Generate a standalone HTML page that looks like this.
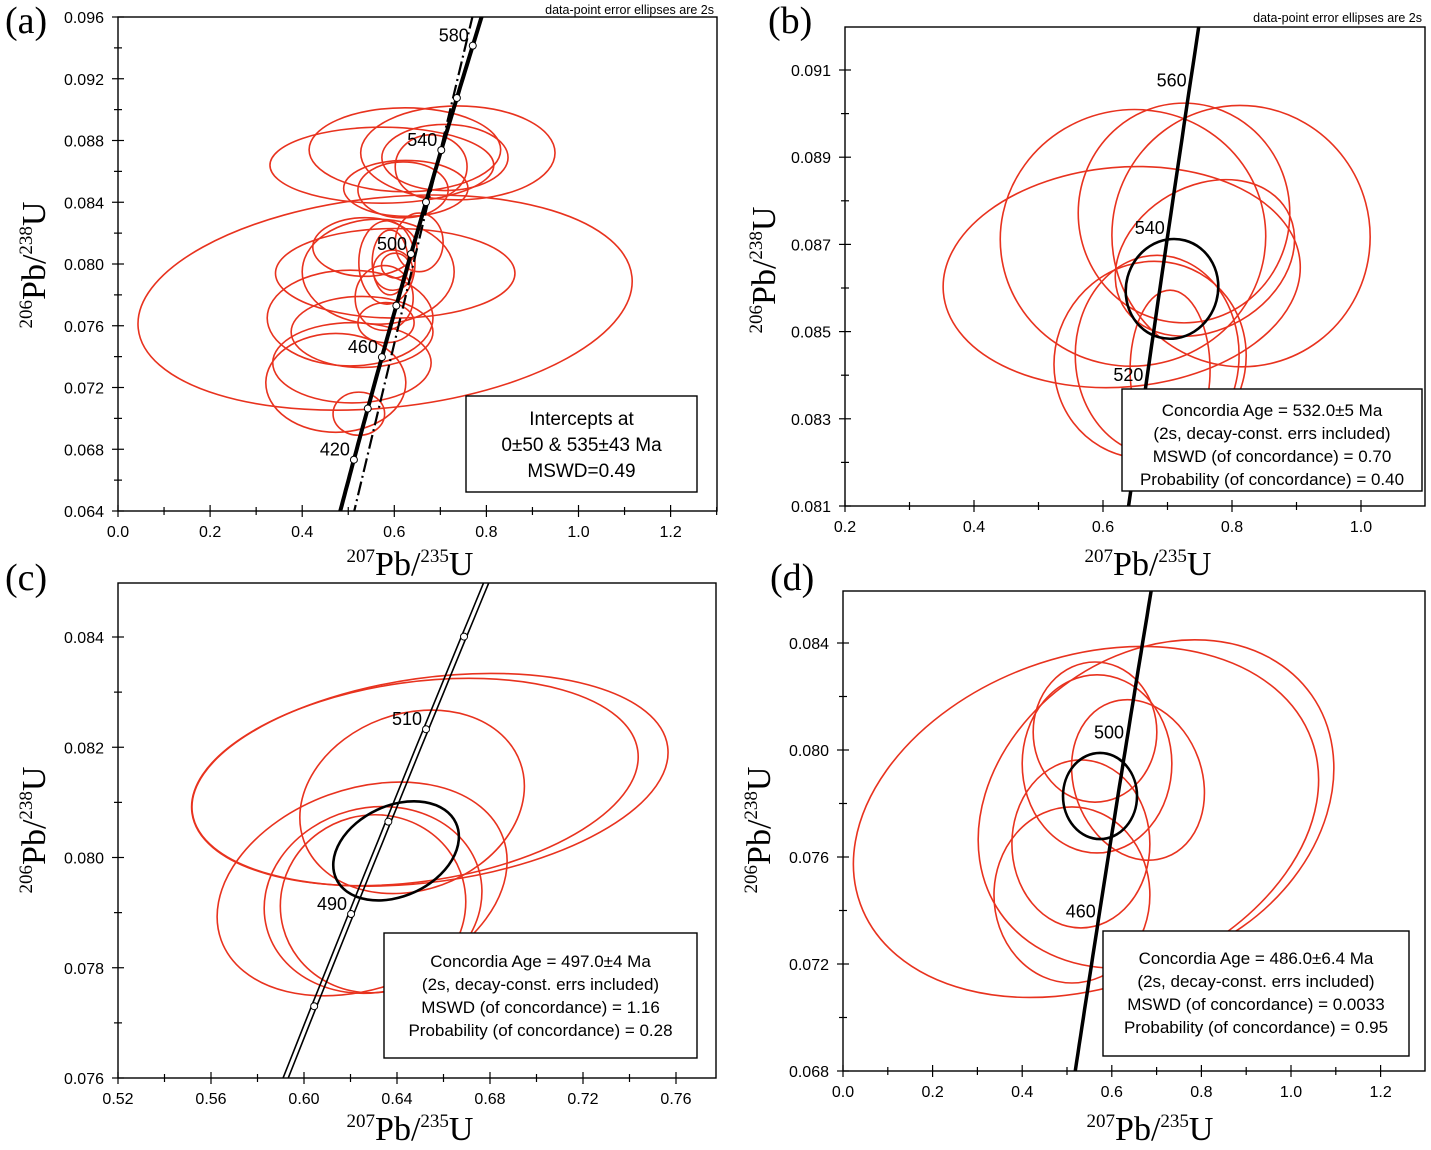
<!DOCTYPE html>
<html><head><meta charset="utf-8"><style>
html,body{margin:0;padding:0;background:#fff;width:1431px;height:1150px;overflow:hidden;}
svg{display:block;}
text{font-family:"Liberation Sans",sans-serif;}
.serif{font-family:"Liberation Serif",serif;}
</style></head><body>
<svg id="fig" width="1431" height="1150" viewBox="0 0 1431 1150" xmlns="http://www.w3.org/2000/svg"></svg>
<script>
// ---- Panel (a) data ----
const aCx=[0.738,0.623,0.573,0.710,0.680,0.625,0.619,0.580,0.602,0.536,0.565,0.504,0.530,0.508,0.473,0.523,0.584,0.597,0.602,0.654,0.578,0.582,0.591];
const aCy=[0.0872,0.0874,0.0864,0.0869,0.0863,0.0849,0.0848,0.0775,0.0794,0.0811,0.0795,0.0765,0.0756,0.0736,0.0723,0.0703,0.0801,0.0796,0.0799,0.0814,0.0778,0.0762,0.0801];
const aRx=[0.211,0.208,0.243,0.137,0.078,0.135,0.098,0.539,0.26,0.113,0.165,0.18,0.154,0.172,0.152,0.056,0.061,0.043,0.030,0.052,0.063,0.061,0.039];
const aRy=[0.00304,0.00272,0.00246,0.00214,0.00207,0.00181,0.00181,0.0068,0.0029,0.0019,0.0034,0.0031,0.0023,0.0026,0.0032,0.0014,0.0027,0.0013,0.0008,0.0019,0.0021,0.0013,0.0021];
const aTilt=[0,0,0,0,0,0,0,-6,0,0,0,0,0,0,0,0,0,0,0,0,0,0,0];
const aAges=[420,440,460,480,500,520,540,560,580];
const aAgeLabels=[420,460,500,540,580];
const aIntercepts=[0,535];
// ---- Panel (b) data ----
const bCx=[0.629,0.6465,0.7256,0.814,0.673,0.684,0.704,0.758];
const bCy=[0.08625,0.08715,0.08772,0.08719,0.08435,0.08446,0.08412,0.08669];
const bRx=[0.2775,0.206,0.164,0.2,0.147,0.127,0.062,0.147];
const bRy=[0.00252,0.00294,0.00252,0.003,0.00229,0.00229,0.00183,0.00165];
const bTilt=[-5,-10,0,-15,30,0,0,-30];
const bMean=[0.707,0.08598,0.0713,0.00115,15];
const bAgeLabels=[520,540,560];
// ---- Panel (c) data ----
const cCx=[0.6477,0.6542,0.6465,0.625,0.6297,0.6297];
const cCy=[0.08137,0.08141,0.08101,0.07943,0.07923,0.07916];
const cRx=[0.0968,0.1032,0.0495,0.0645,0.0473,0.040];
const cRy=[0.00181,0.00185,0.0016,0.00181,0.00167,0.00161];
const cTilt=[-8,-8,-20,-20,-15,-15];
const cMean=[0.6396,0.08012,0.0284,0.00082,-25];
const cAges=[470,480,490,500,510,520,530];
const cAgeLabels=[490,510];
// ---- Panel (d) data ----
const dCx=[0.5424,0.6987,0.5625,0.567,0.6585,0.531,0.511];
const dCy=[0.07731,0.07798,0.08067,0.07948,0.07888,0.07649,0.07458];
const dRx=[0.536,0.424,0.138,0.167,0.143,0.154,0.174];
const dRy=[0.00617,0.00561,0.00262,0.00333,0.00307,0.00314,0.00329];
const dTilt=[-20,-35,0,0,-20,0,0];
const dMean=[0.5737,0.07828,0.0826,0.00161,0];
const dAgeLabels=[460,500];
// tick label arrays
const aXTicks=[0,0.2,0.4,0.6,0.8,1.0,1.2], aYTicks=[0.064,0.068,0.072,0.076,0.080,0.084,0.088,0.092,0.096];
const bXTicks=[0.2,0.4,0.6,0.8,1.0], bYTicks=[0.081,0.083,0.085,0.087,0.089,0.091];
const cXTicks=[0.52,0.56,0.60,0.64,0.68,0.72,0.76], cYTicks=[0.076,0.078,0.080,0.082,0.084];
const dXTicks=[0,0.2,0.4,0.6,0.8,1.0,1.2], dYTicks=[0.068,0.072,0.076,0.080,0.084];

const L238=1.55125e-10, L235=9.8485e-10;
function conc(tMa){return [Math.exp(L235*tMa*1e6)-1, Math.exp(L238*tMa*1e6)-1];}

const NS="http://www.w3.org/2000/svg";
const svg=document.getElementById('fig');
function mk(tag,attrs,parent){const e=document.createElementNS(NS,tag);for(const k in attrs)e.setAttribute(k,attrs[k]);(parent||svg).appendChild(e);return e;}

function panel(id,P){
  const g=mk('g',{});
  
  
  const sx=v=>P.x0+(v-P.xmin)/(P.xmax-P.xmin)*(P.x1-P.x0);
  const sy=v=>P.y1-(v-P.ymin)/(P.ymax-P.ymin)*(P.y1-P.y0);
  const cp=mk('clipPath',{id:'clip'+id},g);
  mk('rect',{x:P.x0,y:P.y0,width:P.x1-P.x0,height:P.y1-P.y0},cp);
  const pg=mk('g',{'clip-path':'url(#clip'+id+')'},g);
  for(let i=0;i<P.cx.length;i++){
    const cx=sx(P.cx[i]), cy=sy(P.cy[i]);
    const rx=P.rx[i]/(P.xmax-P.xmin)*(P.x1-P.x0), ry=P.ry[i]/(P.ymax-P.ymin)*(P.y1-P.y0);
    const e=mk('ellipse',{cx:cx,cy:cy,rx:rx,ry:ry,transform:'rotate('+P.tilt[i]+' '+cx+' '+cy+')',fill:'none',stroke:'#e8321e','stroke-width':1.6},pg);
    
    
  }
  let pts=[];
  for(let t=0;t<=800;t+=2){const c=conc(t);pts.push([sx(c[0]),sy(c[1])]);}
  const drawCurve=(dx,w)=>{const p=mk('path',{d:'M'+pts.map(q=>(q[0]+dx).toFixed(1)+','+q[1].toFixed(1)).join('L'),fill:'none',stroke:'#000','stroke-width':w},pg);
    
    };
  if(P.band){drawCurve(-2.6,1.6);drawCurve(2.6,1.6);} else drawCurve(0,P.cw||3.5);
  if(P.disc){
    const u=conc(P.disc[1]);const slope=u[1]/u[0];
    const l=mk('line',{x1:sx(0),y1:sy(0),x2:sx(1.2),y2:sy(1.2*slope),stroke:'#000','stroke-width':2.2,'stroke-dasharray':'14,4,2,4'},pg);
    
    
  }
  if(P.mean){
    const m=P.mean;const cx=sx(m[0]),cy=sy(m[1]);
    const e=mk('ellipse',{cx:cx,cy:cy,rx:m[2]/(P.xmax-P.xmin)*(P.x1-P.x0),ry:m[3]/(P.ymax-P.ymin)*(P.y1-P.y0),transform:'rotate('+m[4]+' '+cx+' '+cy+')',fill:'none',stroke:'#000','stroke-width':2.6},pg);
    
    
  }
  (P.ages||[]).forEach(a=>{const c=conc(a);const m=mk('circle',{cx:sx(c[0]),cy:sy(c[1]),r:3.5,fill:'#fff',stroke:'#000','stroke-width':1},pg);
    
    });
  P.labels.forEach(a=>{const c=conc(a);const t=mk('text',{x:sx(c[0])-4,y:sy(c[1])+P.ldy,'text-anchor':'end','font-size':18},pg);t.textContent=a;
    
    });
  const fr=mk('rect',{x:P.x0,y:P.y0,width:P.x1-P.x0,height:P.y1-P.y0,fill:'none',stroke:'#000','stroke-width':1.4},g);
  
  
  const xmaj=P.xt, ymaj=P.yt;
  const xstep=(xmaj[1]-xmaj[0])/2, ystep=(ymaj[1]-ymaj[0])/2;
  for(let v=xmaj[0]-xstep*4;v<=P.xmax+1e-9;v+=xstep){if(v<P.xmin-1e-9)continue;
    const isMaj=xmaj.some(q=>Math.abs(q-v)<1e-7);const len=isMaj?6:4;
    mk('line',{x1:sx(v),x2:sx(v),y1:P.y1-len,y2:P.y1+len,stroke:'#000','stroke-width':1.2},g);}
  for(let v=ymaj[0]-ystep*4;v<=P.ymax+1e-9;v+=ystep){if(v<P.ymin-1e-9)continue;
    const isMaj=ymaj.some(q=>Math.abs(q-v)<1e-7);const len=isMaj?6:4;
    mk('line',{x1:P.x0-len,x2:P.x0+len,y1:sy(v),y2:sy(v),stroke:'#000','stroke-width':1.2},g);}
  xmaj.forEach(v=>{const t=mk('text',{x:sx(v),y:P.y1+26,'text-anchor':'middle','font-size':16},g);t.textContent=v.toFixed(P.xd);
    
    });
  ymaj.forEach(v=>{const t=mk('text',{x:P.x0-14,y:sy(v)+6,'text-anchor':'end','font-size':16},g);t.textContent=v.toFixed(3);
    
    });
  const xt=mk('text',{x:(P.xtx),y:P.xty,'text-anchor':'middle','font-size':34,class:'serif'},g);
  xt.innerHTML='<tspan font-size="19" dy="-13">207</tspan><tspan dy="13">Pb/</tspan><tspan font-size="19" dy="-13">235</tspan><tspan dy="13">U</tspan>';
  
  
  const yt=mk('text',{x:0,y:0,'text-anchor':'middle','font-size':34,class:'serif',transform:'translate('+P.ytx+','+P.yty+') rotate(-90)'},g);
  yt.innerHTML='<tspan font-size="19" dy="-13">206</tspan><tspan dy="13">Pb/</tspan><tspan font-size="19" dy="-13">238</tspan><tspan dy="13">U</tspan>';
  
  
  const pl=mk('text',{x:P.lx,y:P.ly,'font-size':38,class:'serif'},g);pl.textContent='('+id+')';
  
  
  if(P.note){const n=mk('text',{x:P.note[0],y:P.note[1],'text-anchor':'end','font-size':12.5},g);n.textContent='data-point error ellipses are 2s';
    
    }
  const b=P.box;
  const br=mk('rect',{x:b[0],y:b[1],width:b[2]-b[0],height:b[3]-b[1],fill:'#fff',stroke:'#000','stroke-width':1.4},g);
  
  
  P.lines.forEach((s,i)=>{const t=mk('text',{x:(b[0]+b[2])/2,y:P.ly0+i*P.lh,'text-anchor':'middle','font-size':P.fs},g);t.textContent=s;
    
    });
}

panel('a',{x0:118,x1:717,y0:17,y1:511,xmin:0,xmax:(717-118)/460.5,ymin:0.064,ymax:0.096,
  cx:aCx,cy:aCy,rx:aRx,ry:aRy,tilt:aTilt,ages:aAges,labels:aAgeLabels,ldy:-4,cw:4,disc:aIntercepts,
  xt:aXTicks,yt:aYTicks,xd:1,xtx:410,xty:575,ytx:45,yty:265,lx:5,ly:33,note:[714,14],
  box:[466,396,697,492],lines:['Intercepts at','0±50 & 535±43 Ma','MSWD=0.49'],ly0:425,lh:26,fs:19});
panel('b',{x0:845,x1:1425,y0:27,y1:506,xmin:0.2,xmax:0.2+580/645,ymin:0.081,ymax:0.081+479/43600,
  cx:bCx,cy:bCy,rx:bRx,ry:bRy,tilt:bTilt,mean:bMean,labels:bAgeLabels,ldy:6,
  xt:bXTicks,yt:bYTicks,xd:1,xtx:1148,xty:575,ytx:775,yty:270,lx:768,ly:33,note:[1422,22],
  box:[1122,389,1422,491],lines:['Concordia Age = 532.0±5 Ma','(2s, decay-const. errs included)','MSWD (of concordance) = 0.70','Probability (of concordance) = 0.40'],ly0:416,lh:23,fs:17});
panel('c',{x0:118,x1:716,y0:583,y1:1078,xmin:0.52,xmax:0.52+598/2325,ymin:0.076,ymax:0.076+495/55125,
  cx:cCx,cy:cCy,rx:cRx,ry:cRy,tilt:cTilt,mean:cMean,ages:cAges,labels:cAgeLabels,ldy:-4,band:true,
  xt:cXTicks,yt:cYTicks,xd:2,xtx:410,xty:1140,ytx:45,yty:830,lx:5,ly:590,
  box:[384,933,697,1058],lines:['Concordia Age = 497.0±4 Ma','(2s, decay-const. errs included)','MSWD (of concordance) = 1.16','Probability (of concordance) = 0.28'],ly0:967,lh:23,fs:17});
panel('d',{x0:843,x1:1425,y0:591,y1:1071,xmin:0,xmax:582/448,ymin:0.068,ymax:0.068+480/26750,
  cx:dCx,cy:dCy,rx:dRx,ry:dRy,tilt:dTilt,mean:dMean,labels:dAgeLabels,ldy:6,
  xt:dXTicks,yt:dYTicks,xd:1,xtx:1150,xty:1140,ytx:770,yty:830,lx:770,ly:590,
  box:[1103,931,1409,1056],lines:['Concordia Age = 486.0±6.4 Ma','(2s, decay-const. errs included)','MSWD (of concordance) = 0.0033','Probability (of concordance) = 0.95'],ly0:964,lh:23,fs:17});
</script>
</body></html>
